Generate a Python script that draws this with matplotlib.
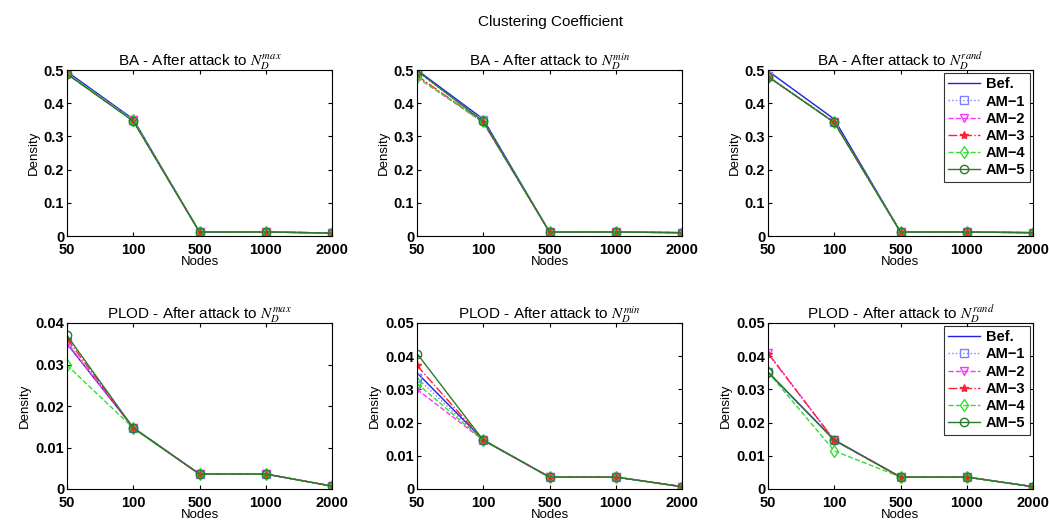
import matplotlib
matplotlib.use("Agg")
import matplotlib.pyplot as plt
import numpy as np

plt.rcParams['font.family'] = ['Liberation Sans', 'DejaVu Sans']
plt.rcParams['mathtext.fontset'] = 'stix'

nodes = ['50', '100', '500', '1000', '2000']
labels = ['Bef.', 'AM\u22121', 'AM\u22122', 'AM\u22123', 'AM\u22124', 'AM\u22125']

# BA data, one row per series (Bef., AM-1 ... AM-5)
ba_max = [[0.495, 0.352, 0.012, 0.012, 0.009],
          [0.490, 0.350, 0.012, 0.012, 0.009],
          [0.488, 0.348, 0.012, 0.012, 0.009],
          [0.488, 0.347, 0.012, 0.012, 0.009],
          [0.490, 0.349, 0.012, 0.012, 0.009],
          [0.488, 0.346, 0.012, 0.012, 0.009]]
ba_min = [[0.500, 0.352, 0.012, 0.012, 0.010],
          [0.495, 0.348, 0.012, 0.012, 0.010],
          [0.478, 0.342, 0.012, 0.012, 0.010],
          [0.483, 0.343, 0.012, 0.012, 0.010],
          [0.478, 0.345, 0.012, 0.012, 0.010],
          [0.498, 0.345, 0.012, 0.012, 0.010]]
ba_rand = [[0.497, 0.352, 0.012, 0.012, 0.010],
           [0.482, 0.343, 0.012, 0.012, 0.010],
           [0.480, 0.342, 0.012, 0.012, 0.010],
           [0.480, 0.342, 0.012, 0.012, 0.010],
           [0.480, 0.342, 0.012, 0.012, 0.010],
           [0.480, 0.342, 0.012, 0.012, 0.010]]

# PLOD data
plod_max = [[0.0350, 0.0148, 0.0036, 0.0036, 0.0007],
            [0.0352, 0.0147, 0.0036, 0.0036, 0.0007],
            [0.0352, 0.0147, 0.0036, 0.0036, 0.0007],
            [0.0362, 0.0147, 0.0036, 0.0036, 0.0007],
            [0.0298, 0.0147, 0.0036, 0.0036, 0.0007],
            [0.0370, 0.0147, 0.0036, 0.0036, 0.0007]]
plod_min = [[0.0350, 0.0148, 0.0036, 0.0036, 0.0007],
            [0.0335, 0.0147, 0.0036, 0.0036, 0.0007],
            [0.0300, 0.0147, 0.0036, 0.0036, 0.0007],
            [0.0372, 0.0147, 0.0036, 0.0036, 0.0007],
            [0.0318, 0.0147, 0.0036, 0.0036, 0.0007],
            [0.0408, 0.0147, 0.0036, 0.0036, 0.0007]]
plod_rand = [[0.0352, 0.0148, 0.0036, 0.0036, 0.0007],
             [0.0352, 0.0147, 0.0036, 0.0036, 0.0007],
             [0.0410, 0.0147, 0.0036, 0.0036, 0.0007],
             [0.0408, 0.0147, 0.0036, 0.0036, 0.0007],
             [0.0352, 0.0115, 0.0036, 0.0036, 0.0007],
             [0.0352, 0.0147, 0.0036, 0.0036, 0.0007]]

styles = [dict(color='#2020e0', ls='-', marker=None),
          dict(color='#8080ff', ls=':', marker='s', mfc='none'),
          dict(color='#ff30ff', ls='--', marker='v', mfc='none'),
          dict(color='#ff2030', ls='-.', marker='*'),
          dict(color='#30e030', ls='--', marker='d', mfc='none'),
          dict(color='#2a7a2a', ls='-', marker='o', mfc='none')]

panels = [('BA - After attack to $N_D^{max}$', ba_max, 0.5, 0.1, False),
          ('BA - After attack to $N_D^{min}$', ba_min, 0.5, 0.1, False),
          ('BA - After attack to $N_D^{rand}$', ba_rand, 0.5, 0.1, True),
          ('PLOD - After attack to $N_D^{max}$', plod_max, 0.04, 0.01, False),
          ('PLOD - After attack to $N_D^{min}$', plod_min, 0.05, 0.01, False),
          ('PLOD - After attack to $N_D^{rand}$', plod_rand, 0.05, 0.01, True)]

W, H = 1049, 521
fig = plt.figure(figsize=(W / 100, H / 100), dpi=100)
lefts = [67, 417, 768]
tops = [70, 323]
aw, ah = 265, 166

x = np.arange(len(nodes))
for i, (title, data, ymax, ystep, leg) in enumerate(panels):
    r, c = divmod(i, 3)
    ax = fig.add_axes([lefts[c] / W, 1 - (tops[r] + ah) / H, aw / W, ah / H])
    for s, (vals, st) in enumerate(zip(data, styles)):
        ax.plot(x, vals, color=st['color'], ls=st['ls'], marker=st['marker'],
                mfc=st.get('mfc', st['color']), ms=6, lw=1.0, label=labels[s])
    ax.set_xlim(0, len(nodes) - 1)
    ax.set_ylim(0, ymax)
    ax.set_xticks(x)
    ax.set_xticklabels(nodes, fontweight='bold', fontsize=10.5)
    yt = np.round(np.arange(0, ymax + ystep / 2, ystep), 3)
    ax.set_yticks(yt)
    ax.set_yticklabels(['0'] + ['%g' % v for v in yt[1:]], fontweight='bold', fontsize=10.5)
    ax.tick_params(direction='in', top=True, right=True, length=3, pad=2)
    ax.tick_params(axis='x', pad=5)
    ax.set_title(title, fontsize=11, pad=3)
    ax.set_xlabel('Nodes', fontsize=9.5, labelpad=-1)
    ax.set_ylabel('Density', fontsize=9.5, labelpad=3)
    if leg:
        lg = ax.legend(loc='upper right', prop={'weight': 'bold', 'size': 10.5},
                       handlelength=2.2, borderpad=0.3, labelspacing=0.22,
                       fancybox=False, edgecolor='black', handletextpad=0.4,
                       borderaxespad=0.2)
        lg.get_frame().set_linewidth(0.8)

fig.text(550 / W, 1 - 22 / H, 'Clustering Coefficient', ha='center', va='center', fontsize=11)
fig.savefig('out.png', dpi=100)
